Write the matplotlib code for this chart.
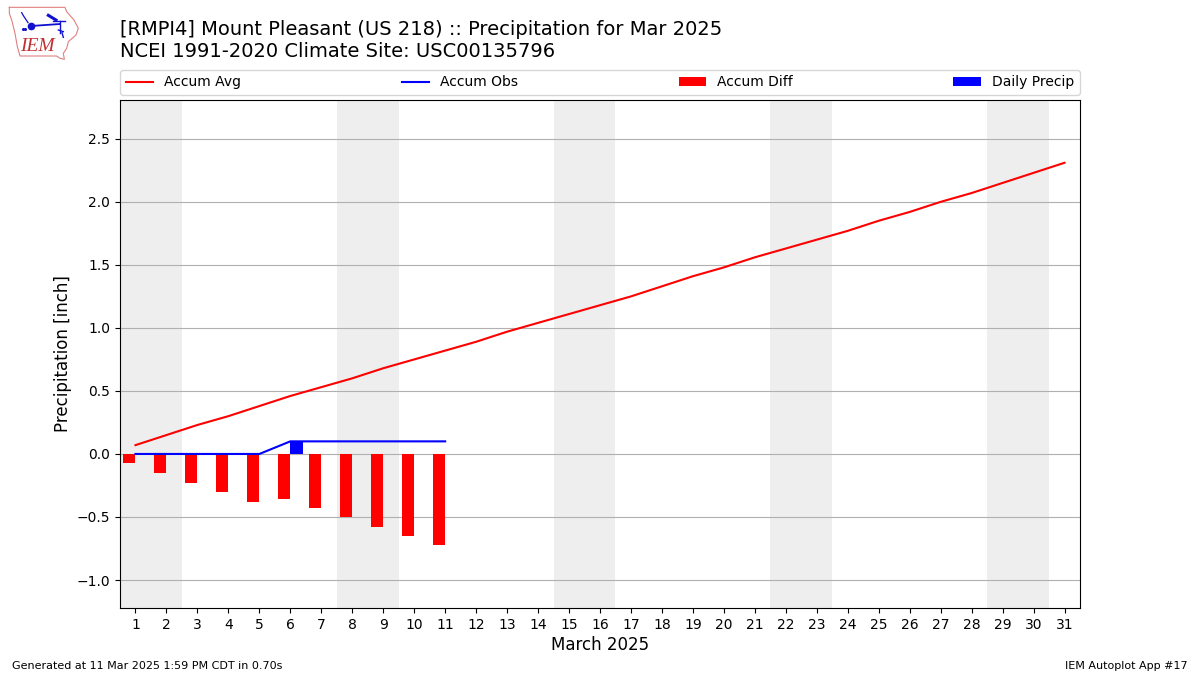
import numpy as np
import matplotlib
matplotlib.use("Agg")
import matplotlib.pyplot as plt

days = np.arange(1, 32)
obs_days = np.arange(1, 12)
accum_avg = [0.07, 0.15, 0.23, 0.30, 0.38, 0.46, 0.53, 0.60, 0.68, 0.75, 0.82,
             0.89, 0.97, 1.04, 1.11, 1.18, 1.25, 1.33, 1.41, 1.48, 1.56, 1.63,
             1.70, 1.77, 1.85, 1.92, 2.00, 2.07, 2.15, 2.23, 2.31]
accum_obs = [0, 0, 0, 0, 0, 0.10, 0.10, 0.10, 0.10, 0.10, 0.10]
accum_diff = [-0.07, -0.15, -0.23, -0.30, -0.38, -0.355, -0.43, -0.50, -0.58, -0.65, -0.72]
daily_precip = [0, 0, 0, 0, 0, 0.10, 0, 0, 0, 0, 0]
weekends = [1, 8, 15, 22, 29]
yticks = [-1.0, -0.5, 0.0, 0.5, 1.0, 1.5, 2.0, 2.5]

# logo outline, in pixels of the 3x zoom
iowa_x = [28, 195, 200, 222, 235, 228, 205, 200, 190, 193, 180, 170, 60, 52, 45, 35, 28, 28]
iowa_y = [22, 22, 35, 60, 85, 105, 125, 145, 160, 178, 175, 168, 168, 140, 100, 60, 40, 22]

fig = plt.figure(figsize=(12, 6.75), dpi=100)
ax = fig.add_axes([120 / 1200, 1 - 608 / 675, 960 / 1200, 508 / 675])

for d in weekends:
    ax.axvspan(d - 0.5, d + 1.5, color="#EEEEEE", lw=0, zorder=0)
ax.grid(axis="y", color="#b0b0b0", lw=0.8, zorder=1)
ax.set_axisbelow(True)

ax.plot(days, accum_avg, color="r", lw=1.5, label="Accum Avg", zorder=3)
ax.plot(obs_days, accum_obs, color="b", lw=1.5, label="Accum Obs", zorder=3)
ax.bar(obs_days, accum_diff, width=-0.4, align="edge", color="r", label="Accum Diff", zorder=2)
ax.bar(obs_days, daily_precip, width=0.4, align="edge", color="b", label="Daily Precip", zorder=2)

ax.set_xlim(0.5, 31.5)
ax.set_ylim(-1.222, 2.808)
ax.set_xticks(days)
ax.set_yticks(yticks)
ax.tick_params(labelsize=10)
ax.set_xlabel("March 2025", fontsize=12, labelpad=2.8)
ax.set_ylabel("Precipitation [inch]", fontsize=12, labelpad=3.5)
ax.legend(loc="lower left", bbox_to_anchor=(0, 1.01, 1, 0.06), mode="expand",
          ncol=4, fontsize=10, borderaxespad=0)

fig.text(120 / 1200, 1 - 61 / 675, "[RMPI4] Mount Pleasant (US 218) :: Precipitation for Mar 2025\n"
         "NCEI 1991-2020 Climate Site: USC00135796", fontsize=14, ha="left", va="bottom")
fig.text(12 / 1200, 1 - 671 / 675, "Generated at 11 Mar 2025 1:59 PM CDT in 0.70s", fontsize=8, va="bottom")
fig.text(1188 / 1200, 1 - 671 / 675, "IEM Autoplot App #17", fontsize=8, ha="right", va="bottom")

# IEM logo
logo = fig.add_axes([0, 1 - 70 / 675, 130 / 1200, 70 / 675])
logo.set_xlim(0, 390)
logo.set_ylim(210, 0)
logo.axis("off")
logo.plot(iowa_x, iowa_y, color="#e08080", lw=0.8)
logo.plot([93, 180], [78, 72], color="#1010d0", lw=1.3)
logo.plot([180, 180], [62, 100], color="#1010d0", lw=1)
logo.plot([160, 195], [62, 62], color="#1010d0", lw=1)
logo.plot([175, 190], [90, 95], color="#1010d0", lw=1)
logo.plot([186, 190], [98, 112], color="#1010d0", lw=1)
logo.plot([145, 168], [46, 60], color="#1010d0", lw=2.2)
logo.plot([65, 72, 84], [38, 50, 68], color="#1010d0", lw=0.9)
logo.plot([93], [78], "o", color="#1010d0", ms=4.5)
logo.plot([70, 76], [87, 87], "o", color="#1010d0", ms=1.2)
logo.text(60, 153, "IEM", color="#c03030", family="Liberation Serif", style="italic", fontsize=14, va="baseline")

fig.savefig("out.png", dpi=100)
